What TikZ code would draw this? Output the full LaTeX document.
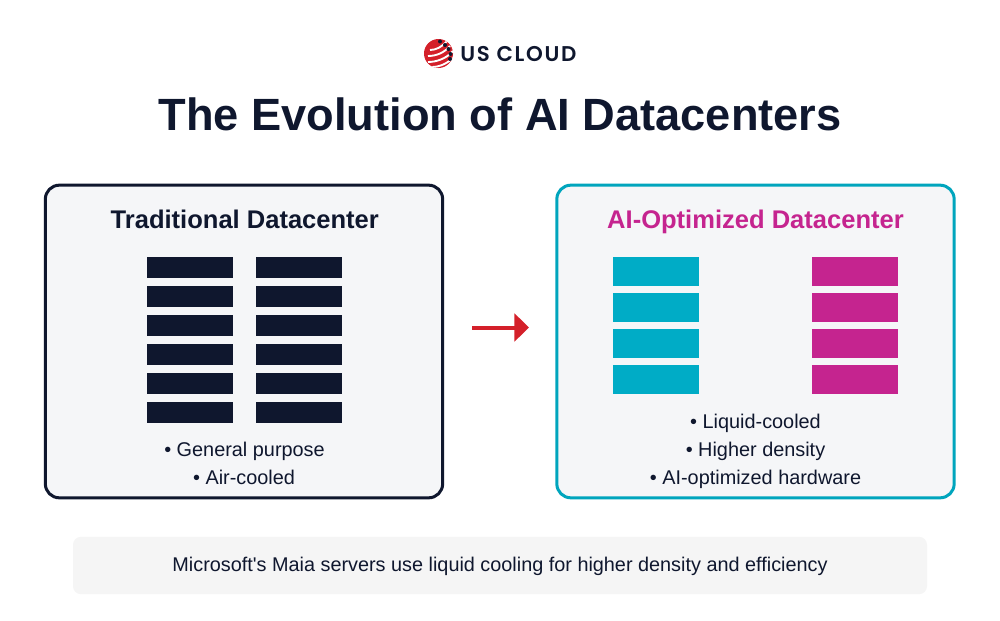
\documentclass[tikz,border=0pt]{standalone}
\usepackage{fontspec}
\setmainfont{Liberation Sans}
\newfontfamily\logofont[LetterSpace=8]{Poppins SemiBold}
\usepackage{tikz}
\usetikzlibrary{positioning}
\usetikzlibrary{arrows.meta}
\definecolor{navy}{HTML}{0F172E}
\definecolor{teal}{HTML}{00ACC6}
\definecolor{tealline}{HTML}{00A5BD}
\definecolor{magenta}{HTML}{C5248F}
\definecolor{panelgray}{HTML}{F5F6F8}
\definecolor{notegray}{HTML}{F5F5F5}
\definecolor{arrowred}{HTML}{D4202A}
\tikzset{
	x=0.75pt, y=-0.75pt,
	panel/.style = {rectangle, draw, line width=2.25pt, rounded corners=10.5pt, fill=panelgray,
	 minimum width=298pt, minimum height=234.5pt, outer sep=0pt},
	oldrack/.style = {rectangle, fill=navy, inner sep=0pt, minimum width=64.1pt, minimum height=16.1pt},
	newrack/.style = {rectangle, inner sep=0pt, minimum width=64.1pt, minimum height=21.4pt},
	heading/.style = {font=\bfseries\fontsize{19.15}{23}\selectfont, inner sep=0pt, anchor=base},
	bullet/.style = {font=\fontsize{14.9}{18}\selectfont, text=navy, inner sep=0pt, anchor=base},
}

\begin{document}
\begin{tikzpicture}
	\useasboundingbox (0,0) rectangle (1000,621);
	\fill[white] (0,0) rectangle (1000,621);
	% logo
	\begin{scope}
		\clip (438.5,53.5) circle (14.5);
		\fill[arrowred] (423,38) rectangle (454,69);
		\draw[white, line width=1.4pt] (430,50) .. controls (436,50) and (442,47) .. (447,41);
		\draw[white, line width=1.4pt] (428,56) .. controls (436,56) and (444,53) .. (450,46);
		\draw[white, line width=1.4pt] (428,62) .. controls (436,62) and (446,59) .. (453,51);
		\draw[white, line width=1.4pt] (432,67) .. controls (440,67) and (448,63) .. (454,57);
	\end{scope}
	\fill[navy] (440,41.5) circle (2) (445,45) circle (2) (448.5,49) circle (2) (450.5,54) circle (2) (450,59) circle (2);
	\node (logo) [font=\logofont\fontsize{16}{20}\selectfont, text=navy, inner sep=0pt, anchor=west] at (460,54) {US CLOUD};
	\node (title) [font=\bfseries\fontsize{33.9}{40}\selectfont, text=navy, inner sep=0pt] at (500,114) {The Evolution of AI Datacenters};
	% panels
	\node (old) [panel, draw=navy] at (244,341.5) {};
	\node (new) [panel, draw=tealline] at (755.5,341.5) {};
	\node (oldhead) [heading, text=navy] at (244.8,228.5) {Traditional Datacenter};
	\node (newhead) [heading, text=magenta] at (755.5,228.5) {AI-Optimized Datacenter};
	% racks
	\begin{scope}[node distance = 5.25pt and 17.25pt]
		\node (a1) [oldrack] at (190,267.5) {};
		\node (a2) [oldrack, below = of a1] {};
		\node (a3) [oldrack, below = of a2] {};
		\node (a4) [oldrack, below = of a3] {};
		\node (a5) [oldrack, below = of a4] {};
		\node (a6) [oldrack, below = of a5] {};
		\node (b1) [oldrack, right = of a1] {};
		\node (b2) [oldrack, below = of b1] {};
		\node (b3) [oldrack, below = of b2] {};
		\node (b4) [oldrack, below = of b3] {};
		\node (b5) [oldrack, below = of b4] {};
		\node (b6) [oldrack, below = of b5] {};
	\end{scope}
	\begin{scope}[node distance = 5.25pt and 84.75pt]
		\node (c1) [newrack, fill=teal] at (656.2,271.5) {};
		\node (c2) [newrack, fill=teal, below = of c1] {};
		\node (c3) [newrack, fill=teal, below = of c2] {};
		\node (c4) [newrack, fill=teal, below = of c3] {};
		\node (d1) [newrack, fill=magenta, right = of c1] {};
		\node (d2) [newrack, fill=magenta, below = of d1] {};
		\node (d3) [newrack, fill=magenta, below = of d2] {};
		\node (d4) [newrack, fill=magenta, below = of d3] {};
	\end{scope}
	% bullets
	\node (oldone) [bullet] at (244.5,456) {• General purpose};
	\node (oldtwo) [bullet] at (244,484) {• Air-cooled};
	\node (newone) [bullet] at (755.5,428) {• Liquid-cooled};
	\node (newtwo) [bullet] at (755.5,456) {• Higher density};
	\node (newthree) [bullet] at (755.5,484) {• AI-optimized hardware};
	% arrow
	\coordinate (arrowstart) at (472,327.5);
	\coordinate (arrowend) at (529,327.5);
	\draw[-{Triangle[length=10.9pt,width=20.6pt]}, arrowred, line width=3pt] (arrowstart) -- (arrowend);
	% note
	\node (note) [rectangle, fill=notegray, rounded corners=6pt, minimum width=640.5pt, minimum height=43pt] at (500,565.5) {};
	\node (notetext) [bullet, font=\fontsize{14.88}{18}\selectfont] at (500,571) {Microsoft\textquotesingle s Maia servers use liquid cooling for higher density and efficiency};
\end{tikzpicture}
\end{document}
